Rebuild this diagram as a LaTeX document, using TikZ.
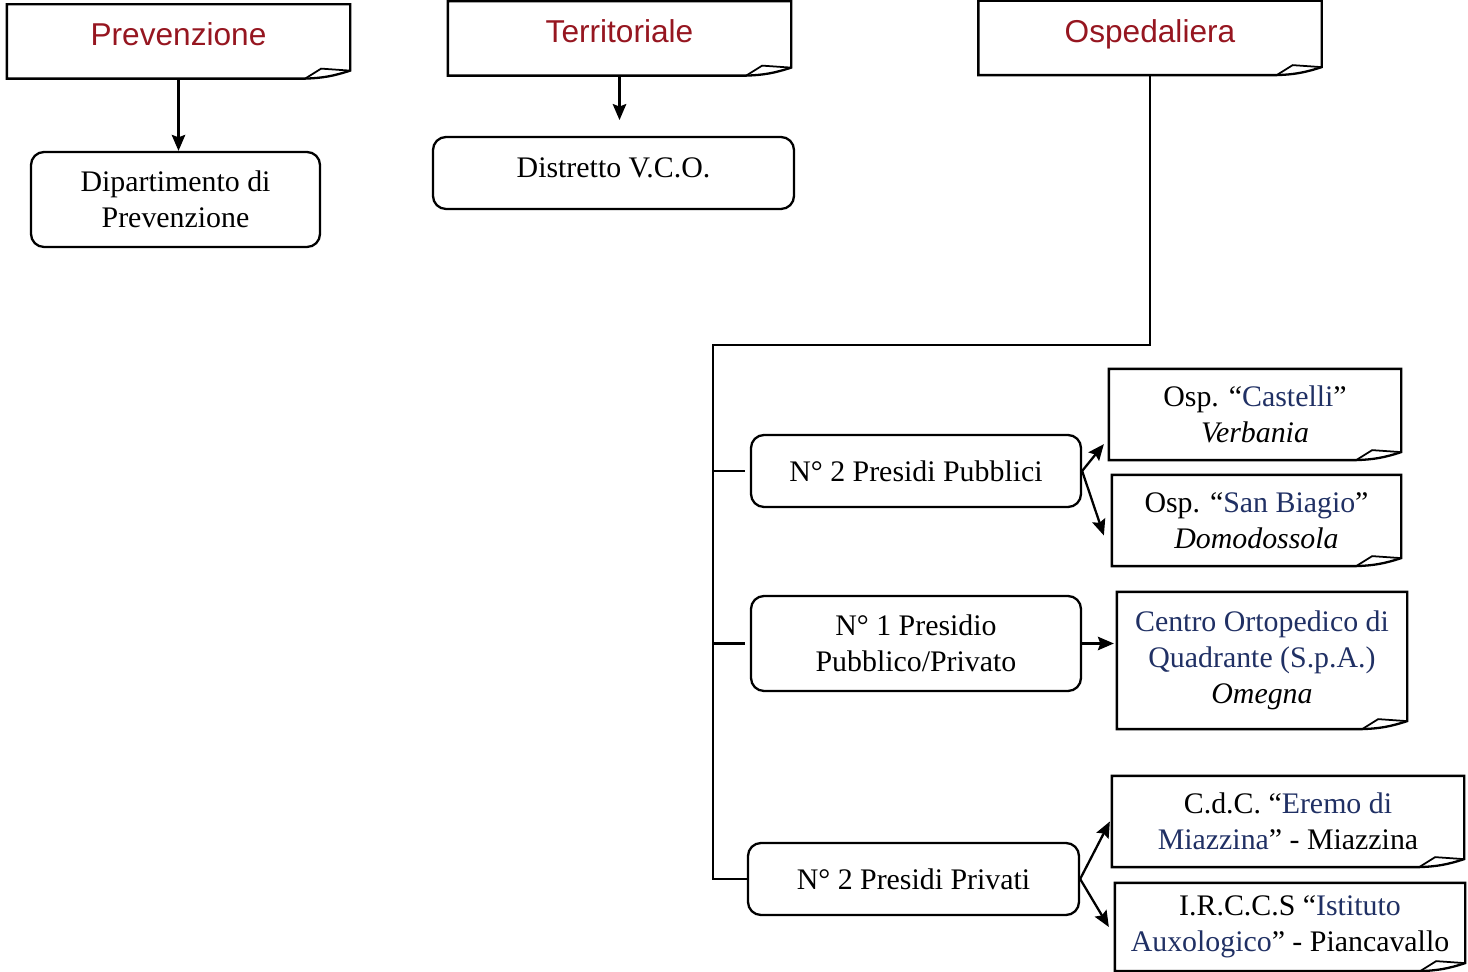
\documentclass[tikz,border=0pt]{standalone}
\usepackage{fontspec}
\setmainfont{Liberation Serif}
\newfontfamily\headfont{Liberation Sans}
\usepackage{tikz}
\usetikzlibrary{arrows.meta, positioning, calc}
\tikzset{>={Stealth[length=0.32cm, width=0.27cm, inset=0.05cm]}}
\definecolor{headred}{RGB}{150,22,32}
\definecolor{navy}{RGB}{32,48,100}

\begin{document}
\begin{tikzpicture}[x=0.02cm, y=-0.02cm, line width=1.3pt,
    every node/.style={font=\fontsize{17}{20.5}\selectfont, align=center, inner sep=0pt},
    note/.style={minimum width=#1*0.02cm},
    head/.style={note=341, minimum height=1.44cm, text height=0.5cm, text depth=0.32cm,
      font=\headfont\fontsize{18}{22}\selectfont, text=headred},
    unit/.style={draw, rounded corners=0.26cm, minimum width=#1*0.02cm},
    conn/.style={-{Stealth[length=0.32cm, width=0.27cm, inset=0.05cm]}}]
    \useasboundingbox (0,0) rectangle (1468,972);
    % top level
    \node[head] (prev) at (178.5,41.5) {Prevenzione};
    \node[head] (terr) at (619.5,38.5) {Territoriale};
    \node[head] (osp)  at (1150,38)    {Ospedaliera};
    \node[unit=289, minimum height=1.9cm]  (dip)  at (175.5,199.5) {Dipartimento di\\Prevenzione};
    \node[unit=361, minimum height=1.44cm, text height=0.42cm, text depth=0.22cm] (dist) at (613.5,173) {Distretto V.C.O.};
    % presidi
    \node[unit=330, minimum height=1.44cm] (pubb) at (916,471)   {N° 2 Presidi Pubblici};
    \node[unit=330, minimum height=1.9cm]  (mist) at (916,643.5) {N° 1 Presidio\\Pubblico/Privato};
    \node[unit=331, minimum height=1.44cm] (priv) at (913.5,879) {N° 2 Presidi Privati};
    % ospedali
    \node[note=290, minimum height=1.78cm] (cast)  at (1255,414.5)  {Osp. “\textcolor{navy}{Castelli}”\\\textit{Verbania}};
    \node[note=287, minimum height=1.78cm] (biag)  at (1256.5,520.5) {Osp. “\textcolor{navy}{San Biagio}”\\\textit{Domodossola}};
    \node[note=288, minimum height=2.7cm]  (orto)  at (1262,660.5)  {\textcolor{navy}{Centro Ortopedico di}\\\textcolor{navy}{Quadrante (S.p.A.)}\\\textit{Omegna}};
    \node[note=350, minimum height=1.78cm] (erem)  at (1288,821.5)  {C.d.C. “\textcolor{navy}{Eremo di}\\\textcolor{navy}{Miazzina}” - Miazzina};
    \node[note=348, minimum height=1.72cm] (irccs) at (1290,927)    {I.R.C.C.S “\textcolor{navy}{Istituto}\\\textcolor{navy}{Auxologico}” - Piancavallo};

    \foreach \n in {prev,terr,osp,cast,biag,orto,erem,irccs}{
      \draw (\n.south west) -- (\n.north west) -- (\n.north east) -- ([yshift=0.16cm]\n.south east)
        to[bend left=8] ([xshift=-0.9cm]\n.south east) -- cycle;
      \draw[line width=1pt] ([xshift=-0.9cm]\n.south east) -- ([xshift=-0.58cm, yshift=0.2cm]\n.south east) -- ([yshift=0.16cm]\n.south east);
    }

    \coordinate (busT) at (713,345);
    \coordinate (busB) at (713,879);

    \draw[conn] (prev.south) -- (prev.south |- dip.north);
    \draw[conn, shorten >=9pt] (terr) -- (terr |- dist.north);
    \draw (osp.south) |- (busT) -- (busB) -- (priv.west);
    \draw[shorten >=3pt] (busT |- pubb.west) -- (pubb.west);
    \draw[shorten >=3pt] (busT |- mist.west) -- (mist.west);

    \draw[conn] (pubb.east) -- ($(cast.south west)+(-5,-16)$);
    \draw[conn] (pubb.east) -- ($(biag.west)+(-8,15)$);
    \draw[conn] (mist.east) -- ($(mist.east -| orto.west)+(-3,0)$);
    \draw[conn] (priv.east) -- ($(erem.west)+(-2,0)$);
    \draw[conn] (priv.east) -- ($(irccs.west)+(-6,0)$);
\end{tikzpicture}
\end{document}
